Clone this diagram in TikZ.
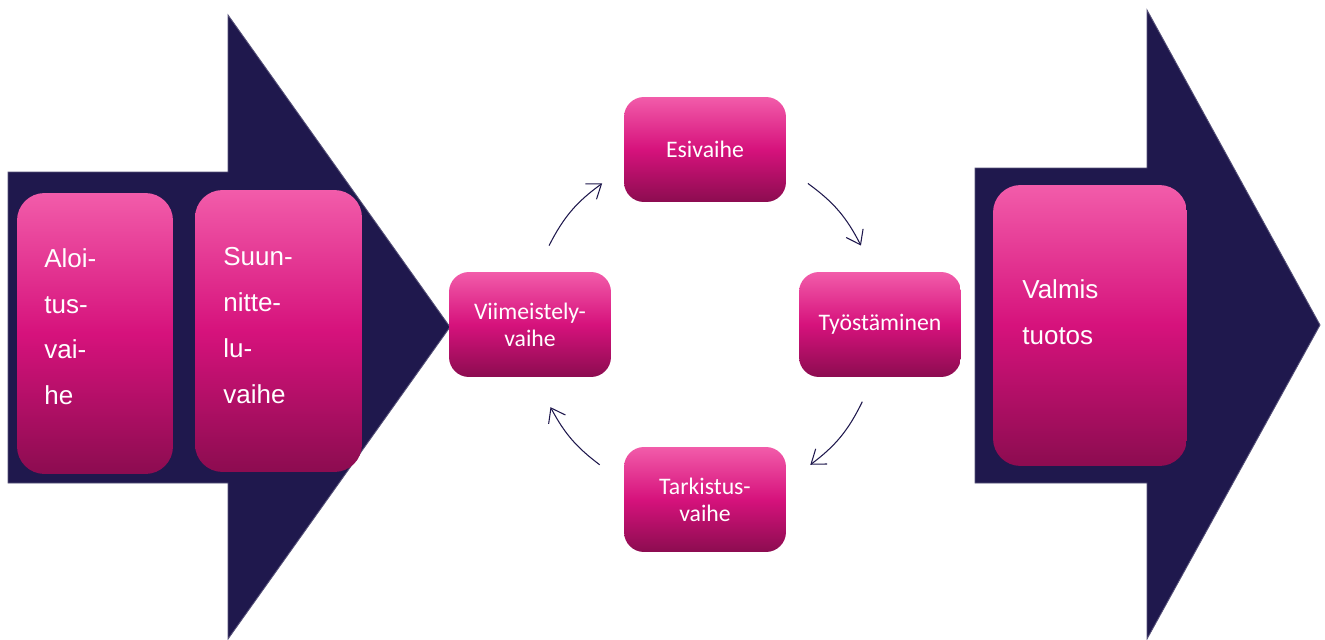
\documentclass[tikz,border=0pt]{standalone}
\usepackage{fontspec}
\setmainfont{Liberation Sans}
\newfontfamily\phasefont{Carlito}
\usepackage{tikz}
\usetikzlibrary{arrows.meta,shapes,positioning}
\definecolor{navy}{RGB}{31,24,77}
\definecolor{pinktop}{RGB}{242,92,170}
\definecolor{pinkmid}{RGB}{214,18,124}
\definecolor{pinkbot}{RGB}{140,12,80}
\tikzstyle{bigarrow}=[fill=navy, draw=navy!75!white, line width=0.5pt]
\tikzstyle{pinkbox}=[rectangle, top color=pinktop, bottom color=pinkbot, middle color=pinkmid, inner sep=0pt]
\tikzstyle{phase}=[pinkbox, rounded corners=0.4cm, text=white, minimum width=3.24cm, minimum height=2.1cm, align=center, font=\phasefont\fontsize{13.5}{15.3}\selectfont]
\tikzstyle{stage}=[pinkbox, rounded corners=0.55cm]
\tikzstyle{stagetext}=[anchor=north west, inner sep=0pt, text=white, align=left, font=\fontsize{14.8}{26.1}\selectfont]
\tikzstyle{cycle}=[draw=navy, line width=0.6pt, -{Straight Barb[length=2.6mm,width=3.8mm]}]

\begin{document}
\begin{tikzpicture}[x=0.02cm, y=-0.02cm]

\useasboundingbox (0,0) rectangle (1325,639);

% big arrows
\draw[bigarrow] (8,172) -- (228,172) -- (228,15) -- (450,327) -- (228,639) -- (228,483) -- (8,483) -- cycle;
\draw[bigarrow] (975,168) -- (1147,168) -- (1147,10) -- (1320,325) -- (1147,639) -- (1147,483) -- (975,483) -- cycle;

% stages
\node[stage, minimum width=3.12cm, minimum height=5.62cm] (aloi) at (95,333.5) {};
\node[stage, minimum width=3.34cm, minimum height=5.64cm] (suun) at (278.5,331) {};
\node[stage, minimum width=3.88cm, minimum height=5.62cm] (valmis) at (1090,325.5) {};
\node[stagetext] (aloitxt) at (44,248) {Aloi-\\tus-\\vai-\\he};
\node[stagetext] (suuntxt) at (223,247) {Suun-\\nitte-\\lu-\\vaihe};
\node[stagetext] (valmistxt) at (1022,279) {Valmis\\tuotos};

% phases
\node[phase] (esi) at (705,149.5) {Esivaihe};
\node[phase] (tyo) at (880,324.5) {Työstäminen};
\node[phase] (tar) at (705,499.5) {Tarkistus-\\vaihe};
\node[phase] (vii) at (530,324.5) {Viimeistely-\\vaihe};

% cycle
\begin{scope}[shift={(705,325)}]
\coordinate (a1s) at (207:175);
\coordinate (a1e) at (234:175);
\coordinate (a2s) at (306:175);
\coordinate (a2e) at (333:175);
\coordinate (a3s) at (26:175);
\coordinate (a3e) at (53:175);
\coordinate (a4s) at (127:175);
\coordinate (a4e) at (152:175);
\end{scope}
\draw[cycle] (a1s) to[bend left=13.5] (a1e);
\draw[cycle] (a2s) to[bend left=13.5] (a2e);
\draw[cycle] (a3s) to[bend left=13.5] (a3e);
\draw[cycle] (a4s) to[bend left=12.5] (a4e);

\end{tikzpicture}
\end{document}
